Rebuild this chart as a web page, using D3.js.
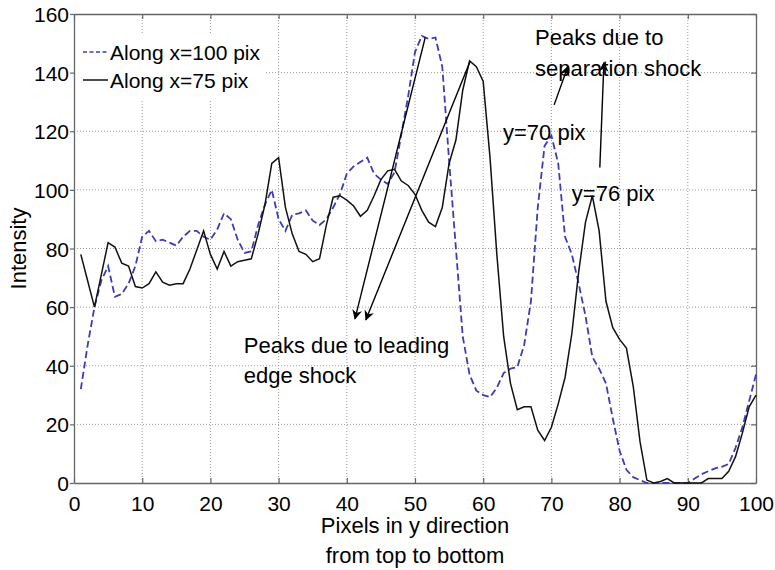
<!DOCTYPE html>
<html>
<head>
<meta charset="utf-8">
<script src="https://cdn.jsdelivr.net/npm/d3@7"></script>
<style>
  body { margin: 0; background: #fff; }
  text { font-family: "Liberation Sans", Arial, Helvetica, sans-serif; fill: #000; }
</style>
</head>
<body>
<svg id="chart" width="775" height="570"></svg>
<script>
// pixel index along the column (x axis)
const pixels = [1,2,3,4,5,6,7,8,9,10,11,12,13,14,15,16,17,18,19,20,
  21,22,23,24,25,26,27,28,29,30,31,32,33,34,35,36,37,38,39,40,
  41,42,43,44,45,46,47,48,49,50,51,52,53,54,55,56,57,58,59,60,
  61,62,63,64,65,66,67,68,69,70,71,72,73,74,75,76,77,78,79,80,
  81,82,83,84,85,86,87,88,89,90,91,92,93,94,95,96,97,98,99,100];

// intensity along x=100 pix (blue dashed)
const along100 = [32,47,60,69,74,63.5,64.5,68,74,84,86,82.5,83,82,81,84,86,86,84,83,
  86.5,92,90,83,78.5,79,88,95,100,90,86,91.5,92,93,89.5,88,90,94,98.5,105.5,
  108,109.5,111,105.5,103.5,102,106,119,132,147,152.5,151.5,152,142,110,80,50,37,31.5,30,
  29.3,32.5,37.5,39,39.5,47,62,94,115,118.5,109,84,78,68,57,43,39,34,22,11,
  4.5,2,1,0,0,0,0,0,0,0,1.5,3,4,5,5.5,6.5,12,19,28,37];

// intensity along x=75 pix (black solid)
const along75 = [78,69,60,71,82,80.5,75,74,67,66.5,68,72,68.5,67.5,68,68,73,79.5,86,78,
  73,79,74,75.5,76,76.5,85,95,109,111,94,85,79,78,75.5,76.5,88,97.5,98,96.5,
  94.5,91,93,98,103.5,106.5,107,103,101.5,98.5,93,89,87.5,94,109,117,134,144,142,137,
  111,78,50,34,25,26,26,18,14.5,19,27,36,51,72,89,98,86,62,53,49,
  46,33,14,1,0,0.5,1.5,0,0,0,0,0,1.5,1.5,1.5,4,9,17,26,30];

const xTicks = [0,10,20,30,40,50,60,70,80,90,100];
const yTicks = [0,20,40,60,80,100,120,140,160];

const svg = d3.select("#chart");
const margin = { top: 14, right: 19, bottom: 87, left: 74 };
const width = 775 - margin.left - margin.right;
const height = 570 - margin.top - margin.bottom;
const g = svg.append("g").attr("transform", `translate(${margin.left},${margin.top})`);

const x = d3.scaleLinear().domain([0, 100]).range([0, width]);
const y = d3.scaleLinear().domain([0, 160]).range([height, 0]);

// dotted grid
g.append("g").selectAll("line.vx").data(xTicks.slice(1, -1)).join("line")
  .attr("x1", d => x(d)).attr("x2", d => x(d)).attr("y1", 0).attr("y2", height)
  .attr("stroke", "#9a9a9a").attr("stroke-width", 1).attr("stroke-dasharray", "1,2");
g.append("g").selectAll("line.hy").data(yTicks.slice(1, -1)).join("line")
  .attr("x1", 0).attr("x2", width).attr("y1", d => y(d)).attr("y2", d => y(d))
  .attr("stroke", "#9a9a9a").attr("stroke-width", 1).attr("stroke-dasharray", "1,2");

// axes
const axisColor = "#666";
function styleAxis(sel) {
  sel.select(".domain").attr("stroke", axisColor).attr("stroke-width", 1.3);
  sel.selectAll(".tick line").attr("stroke", axisColor).attr("stroke-width", 1.2);
  sel.selectAll("text").attr("font-size", 21).attr("fill", "#000")
    .style("font-family", '"Liberation Sans", Arial, sans-serif');
}
g.append("g").attr("transform", `translate(0,${height})`)
  .call(d3.axisBottom(x).tickValues(xTicks).tickSizeInner(-5).tickSizeOuter(0).tickPadding(13))
  .call(styleAxis);
g.append("g")
  .call(d3.axisLeft(y).tickValues(yTicks).tickSizeInner(4).tickSizeOuter(0).tickPadding(1))
  .call(styleAxis)
  .selectAll("text").attr("dy", "0.36em");
g.append("g")
  .call(d3.axisTop(x).tickValues(xTicks).tickSizeInner(-5).tickSizeOuter(0).tickFormat(""))
  .call(styleAxis);
g.append("g").attr("transform", `translate(${width},0)`)
  .call(d3.axisRight(y).tickValues(yTicks).tickSizeInner(-5).tickSizeOuter(0).tickFormat(""))
  .call(styleAxis);

// data lines
const line = (vals) => d3.line().x((d, i) => x(pixels[i])).y(d => y(d))(vals);
g.append("path").attr("d", line(along100))
  .attr("fill", "none").attr("stroke", "#3c3cb4").attr("stroke-width", 1.8)
  .attr("stroke-dasharray", "7,3.5");
g.append("path").attr("d", line(along75))
  .attr("fill", "none").attr("stroke", "#111").attr("stroke-width", 1.5);

// arrow marker
svg.append("defs").append("marker")
  .attr("id", "arrow").attr("viewBox", "0 0 10 10")
  .attr("refX", 9).attr("refY", 5)
  .attr("markerWidth", 12).attr("markerHeight", 10)
  .attr("markerUnits", "userSpaceOnUse")
  .attr("orient", "auto")
  .append("path").attr("d", "M0,0 L10,5 L0,10 L3,5 z").attr("fill", "#000");

const arrows = [
  { from: [51.5, 152], to: [41.2, 56] },
  { from: [58.1, 144], to: [42.8, 55.7] },
  { from: [70.4, 129], to: [72.4, 142] },
  { from: [77.1, 107.6], to: [77.7, 143.4] }
];
g.append("g").selectAll("line").data(arrows).join("line")
  .attr("x1", d => x(d.from[0])).attr("y1", d => y(d.from[1]))
  .attr("x2", d => x(d.to[0])).attr("y2", d => y(d.to[1]))
  .attr("stroke", "#000").attr("stroke-width", 1.4)
  .attr("marker-end", "url(#arrow)");

// annotation text
const notes = [
  { t: "Peaks due to leading", at: [24.9, 47] },
  { t: "edge shock", at: [24.9, 36.7] },
  { t: "Peaks due to", at: [67.6, 152] },
  { t: "separation shock", at: [67.6, 141.4] },
  { t: "y=70 pix", at: [62.9, 119.6] },
  { t: "y=76 pix", at: [73, 99] }
];
g.append("g").selectAll("text").data(notes).join("text")
  .attr("x", d => x(d.at[0])).attr("y", d => y(d.at[1]))
  .attr("dy", "0.36em").attr("font-size", 22).text(d => d.t);

// legend
const legend = g.append("g");
legend.append("rect").attr("x", 2).attr("y", 20).attr("width", 190).attr("height", 66).attr("fill", "#fff");
const legendItems = [
  { label: "Along x=100 pix", color: "#3c3cb4", dash: "4,2.5", w: 1.5 },
  { label: "Along x=75 pix", color: "#111", dash: null, w: 1.5 }
];
legendItems.forEach((d, i) => {
  const ly = 38 + i * 28;
  legend.append("line").attr("x1", 9).attr("x2", 34).attr("y1", ly).attr("y2", ly)
    .attr("stroke", d.color).attr("stroke-width", d.w).attr("stroke-dasharray", d.dash);
  legend.append("text").attr("x", 36).attr("y", ly).attr("dy", "0.36em")
    .attr("font-size", 21).text(d.label);
});

// axis titles
g.append("text").attr("x", width / 2).attr("y", height + 42).attr("dy", "0.36em")
  .attr("text-anchor", "middle").attr("font-size", 22).text("Pixels in y direction");
g.append("text").attr("x", width / 2).attr("y", height + 72).attr("dy", "0.36em")
  .attr("text-anchor", "middle").attr("font-size", 22).text("from top to bottom");
g.append("text").attr("transform", `translate(${18 - margin.left},${height / 2}) rotate(-90)`)
  .attr("dy", "0.36em").attr("text-anchor", "middle").attr("font-size", 22).text("Intensity");
</script>
</body>
</html>
